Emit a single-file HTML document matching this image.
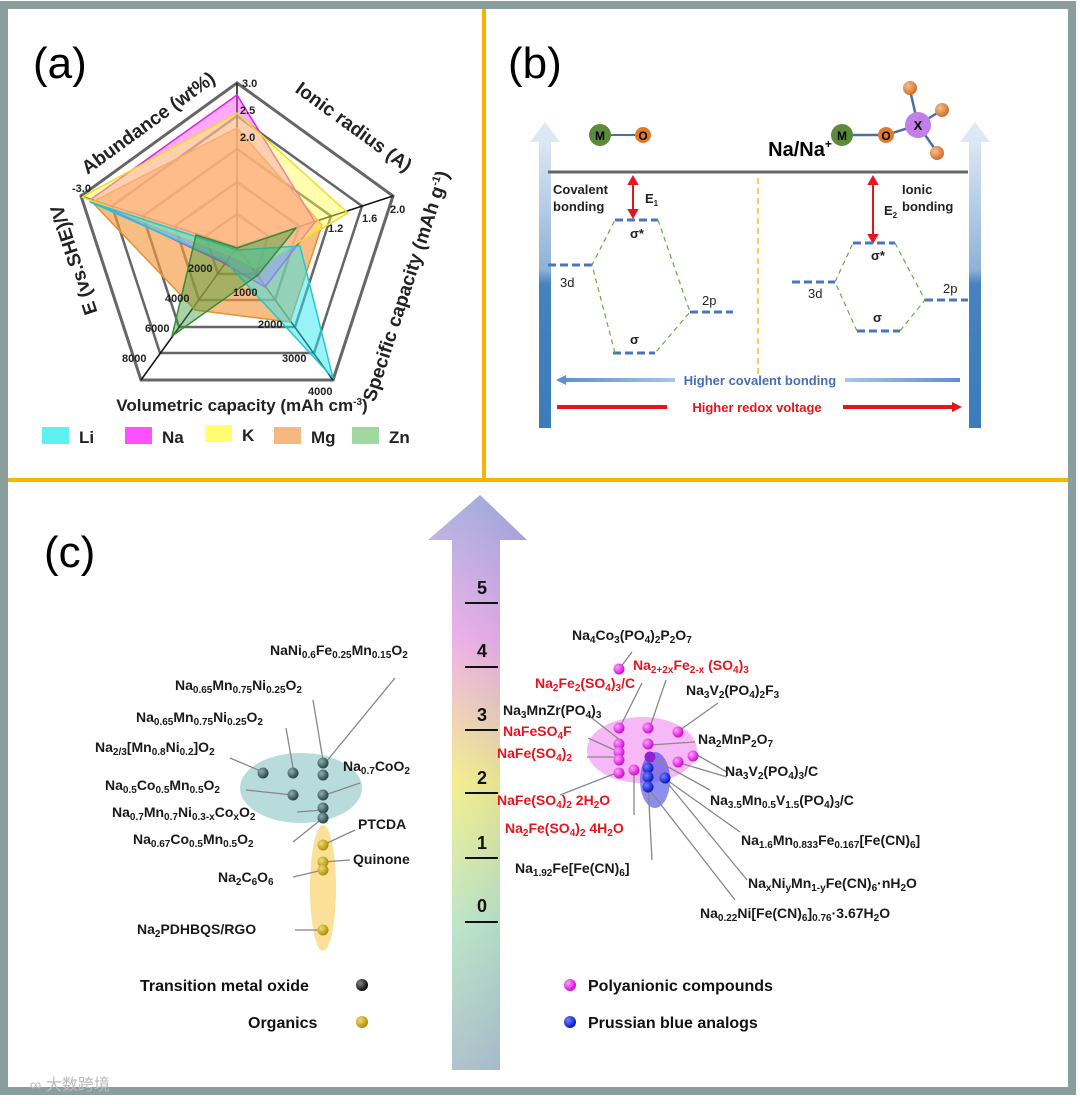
<!DOCTYPE html>
<html><head><meta charset="utf-8"><style>
html,body{margin:0;padding:0;background:#fff}
#w{position:relative;width:1080px;height:1104px;overflow:hidden;font-family:"Liberation Sans",Arial,sans-serif}
svg{position:absolute;left:0;top:0}
.l{position:absolute;font-size:14px;font-weight:bold;line-height:18px;white-space:nowrap;color:#1a1a1a}
.r{color:#e8141c}
.l sub{font-size:10px;vertical-align:-3px;line-height:0}
.l sup{font-size:9px;vertical-align:5px;line-height:0}
</style></head><body><div id="w">
<svg width="1080" height="1104" viewBox="0 0 1080 1104" font-family="Liberation Sans, Arial, sans-serif">
<defs>
<linearGradient id="ba" x1="0" y1="0" x2="0" y2="1">
<stop offset="0" stop-color="#dce8f5"/><stop offset="0.45" stop-color="#8fb2d8"/><stop offset="0.5" stop-color="#4682be"/><stop offset="1" stop-color="#3c7cbb"/></linearGradient>
<linearGradient id="bigv" x1="0" y1="0" x2="0" y2="1">
<stop offset="0" stop-color="#9ea6da"/><stop offset="0.25" stop-color="#f0a6e6"/><stop offset="0.5" stop-color="#f8f27a"/><stop offset="0.75" stop-color="#b6e6c0"/><stop offset="1" stop-color="#a6bcc4"/></linearGradient>
<linearGradient id="bigh" x1="0" y1="0" x2="1" y2="0">
<stop offset="0" stop-color="#fff" stop-opacity="0.15"/><stop offset="1" stop-color="#8090d0" stop-opacity="0.25"/></linearGradient>
<linearGradient id="hb" x1="0" y1="0" x2="1" y2="0"><stop offset="0" stop-color="#5b8fcf"/><stop offset="1" stop-color="#a9c6e8"/></linearGradient>
<linearGradient id="hb2" x1="0" y1="0" x2="1" y2="0"><stop offset="0" stop-color="#a9c6e8"/><stop offset="1" stop-color="#5b8fcf"/></linearGradient>
<radialGradient id="gt" cx="0.35" cy="0.35" r="0.7"><stop offset="0" stop-color="#8fb0b0"/><stop offset="1" stop-color="#20403f"/></radialGradient>
<radialGradient id="gy" cx="0.35" cy="0.35" r="0.7"><stop offset="0" stop-color="#f0dc70"/><stop offset="1" stop-color="#a88a00"/></radialGradient>
<radialGradient id="gp" cx="0.35" cy="0.35" r="0.7"><stop offset="0" stop-color="#ffa0ff"/><stop offset="1" stop-color="#d000d0"/></radialGradient>
<radialGradient id="gb" cx="0.35" cy="0.35" r="0.7"><stop offset="0" stop-color="#7080ff"/><stop offset="1" stop-color="#0010c0"/></radialGradient>
<radialGradient id="gk" cx="0.35" cy="0.35" r="0.7"><stop offset="0" stop-color="#888"/><stop offset="1" stop-color="#000"/></radialGradient>
<radialGradient id="go" cx="0.35" cy="0.35" r="0.7"><stop offset="0" stop-color="#f6c090"/><stop offset="1" stop-color="#d06a20"/></radialGradient>
</defs>
<rect x="4" y="5" width="1068" height="1086" fill="none" stroke="#8a9e9e" stroke-width="8"/>
<line x1="484" y1="9" x2="484" y2="480" stroke="#f4b400" stroke-width="4"/>
<line x1="8" y1="480" x2="1068" y2="480" stroke="#f4b400" stroke-width="4"/>
<text x="33" y="78" font-size="44">(a)</text>
<text x="508" y="78" font-size="44">(b)</text>
<text x="44" y="567" font-size="44">(c)</text>

<g fill="none" stroke="#666" stroke-width="3">
<polygon points="237,83 393,196 333,380 141,380 81,196"/>
<polygon points="237,116 362,206 314,353 160,353 112,206" stroke-width="2.5"/>
<polygon points="237,149 331,216 295,327 179,327 143,216" stroke-width="2.5"/>
<polygon points="237,182 299,226 275,300 199,300 175,226" stroke-width="2.5"/>
<polygon points="237,214 268,236 256,274 218,274 206,236" stroke-width="2.5"/>
</g>
<g stroke="#111" stroke-width="1.5">
<line x1="237" y1="247" x2="237" y2="83"/><line x1="237" y1="247" x2="393" y2="196"/><line x1="237" y1="247" x2="333" y2="380"/><line x1="237" y1="247" x2="141" y2="380"/><line x1="237" y1="247" x2="81" y2="196"/>
</g>
<g stroke-width="1.5" stroke-linejoin="round">
<polygon points="237,128 322,225 290,322 195,310 92,202" fill="#f39a40" fill-opacity="0.65" stroke="#e8902c"/>
<polygon points="237,95 315,222 265,287 222,262 90,200" fill="#ff40ff" fill-opacity="0.45" stroke="#e020e0"/>
<polygon points="237,113 348,213 255,268 230,255 82,197" fill="#ffff50" fill-opacity="0.45" stroke="#e8e020"/>
<polygon points="237,250 300,246 333,378 226,262 90,202" fill="#30e8f0" fill-opacity="0.5" stroke="#20c8d0"/>
<polygon points="237,248 296,228 258,275 172,336 196,235" fill="#40a040" fill-opacity="0.45" stroke="#3a8a3a"/>
</g>
<g font-size="11" font-weight="bold" fill="#222">
<text x="242" y="87">3.0</text><text x="240" y="114">2.5</text><text x="240" y="141">2.0</text>
<text x="72" y="192">-3.0</text>
<text x="390" y="213">2.0</text><text x="362" y="222">1.6</text><text x="328" y="232">1.2</text>
<text x="308" y="395">4000</text><text x="282" y="362">3000</text><text x="258" y="328">2000</text><text x="233" y="296">1000</text>
<text x="122" y="362">8000</text><text x="145" y="332">6000</text><text x="165" y="302">4000</text><text x="188" y="272">2000</text>
</g>
<g font-size="19" font-weight="bold" fill="#222">
<text transform="translate(152,128) rotate(-36)" text-anchor="middle">Abundance (wt%)</text>
<text transform="translate(350,132) rotate(36)" text-anchor="middle">Ionic radius (A)</text>
<text transform="translate(412,288) rotate(-72)" text-anchor="middle">Specific capacity (mAh g<tspan font-size="11" dy="-7">-1</tspan><tspan dy="7">)</tspan></text>
<text transform="translate(80,258) rotate(-108)" text-anchor="middle">E (vs.SHE)/V</text>
</g>
<text x="242" y="411" font-size="17" font-weight="bold" fill="#222" text-anchor="middle">Volumetric capacity (mAh cm<tspan font-size="10" dy="-6">-3</tspan><tspan dy="6">)</tspan></text>
<g font-size="17" font-weight="bold" fill="#222">
<rect x="42" y="427" width="27" height="17" fill="#5ff0f0"/><text x="79" y="443">Li</text>
<rect x="125" y="427" width="27" height="17" fill="#ff50ff"/><text x="162" y="443">Na</text>
<rect x="205" y="425" width="27" height="17" fill="#ffff70"/><text x="242" y="441">K</text>
<rect x="274" y="427" width="27" height="17" fill="#f5b880"/><text x="311" y="443">Mg</text>
<rect x="352" y="427" width="27" height="17" fill="#a0d8a0"/><text x="389" y="443">Zn</text>
</g>

<rect x="539" y="140" width="12" height="288" fill="url(#ba)"/>
<polygon points="545,122 530,142 560,142" fill="#dce8f5"/>
<rect x="969" y="140" width="12" height="288" fill="url(#ba)"/>
<polygon points="975,122 960,142 990,142" fill="#dce8f5"/>
<line x1="548" y1="172" x2="968" y2="172" stroke="#666" stroke-width="3"/>
<line x1="600" y1="135" x2="643" y2="135" stroke="#4a6fa0" stroke-width="2"/>
<circle cx="600" cy="135" r="11" fill="#5a8a3a"/><text x="600" y="140" font-size="12" font-weight="bold" text-anchor="middle">M</text>
<circle cx="643" cy="135" r="8" fill="#e07a2a"/><text x="643" y="140" font-size="12" font-weight="bold" text-anchor="middle">O</text>
<g stroke="#4a6fa0" stroke-width="2.5"><line x1="842" y1="135" x2="886" y2="135"/><line x1="886" y1="135" x2="918" y2="125"/><line x1="918" y1="125" x2="942" y2="110"/><line x1="918" y1="125" x2="937" y2="152"/><line x1="918" y1="125" x2="910" y2="90"/></g>
<circle cx="842" cy="135" r="11" fill="#5a8a3a"/><text x="842" y="140" font-size="12" font-weight="bold" text-anchor="middle">M</text>
<circle cx="886" cy="135" r="8" fill="#e07a2a"/><text x="886" y="140" font-size="12" font-weight="bold" text-anchor="middle">O</text>
<circle cx="942" cy="110" r="7" fill="url(#go)"/><circle cx="937" cy="153" r="7" fill="url(#go)"/><circle cx="910" cy="88" r="7" fill="url(#go)"/>
<circle cx="918" cy="125" r="13" fill="#c080e8"/><text x="918" y="130" font-size="13" font-weight="bold" text-anchor="middle">X</text>
<text x="800" y="156" font-size="20" font-weight="bold" text-anchor="middle">Na/Na<tspan font-size="12" dy="-8">+</tspan></text>
<g font-size="13" font-weight="bold" fill="#222">
<text x="553" y="194">Covalent</text><text x="553" y="211">bonding</text>
<text x="902" y="194">Ionic</text><text x="902" y="211">bonding</text>
<text x="645" y="203">E<tspan font-size="8" dy="3">1</tspan></text>
<text x="884" y="215">E<tspan font-size="8" dy="3">2</tspan></text>
</g>
<g stroke="#e8141c" stroke-width="2" fill="#e8141c">
<line x1="633" y1="181" x2="633" y2="213"/><polygon points="633,177 629,184 637,184"/><polygon points="633,217 629,210 637,210"/>
<line x1="873" y1="181" x2="873" y2="238"/><polygon points="873,177 869,184 877,184"/><polygon points="873,242 869,235 877,235"/>
</g>
<line x1="758" y1="178" x2="758" y2="378" stroke="#f4c020" stroke-width="1.5" stroke-dasharray="6,4"/>
<g stroke="#4a74c0" stroke-width="3" stroke-dasharray="8,4">
<line x1="615" y1="220" x2="658" y2="220"/><line x1="548" y1="265" x2="592" y2="265"/><line x1="690" y1="312" x2="733" y2="312"/><line x1="613" y1="353" x2="655" y2="353"/>
<line x1="853" y1="243" x2="895" y2="243"/><line x1="792" y1="282" x2="835" y2="282"/><line x1="925" y1="300" x2="968" y2="300"/><line x1="857" y1="331" x2="900" y2="331"/>
</g>
<g stroke="#6aaa40" stroke-width="1.2" stroke-dasharray="5,4" fill="none">
<polyline points="615,353 592,265 615,220"/><polyline points="658,220 690,312 655,353"/>
<polyline points="857,331 835,282 853,243"/><polyline points="895,243 925,300 900,331"/>
</g>
<g font-size="13" fill="#222">
<text x="560" y="287">3d</text><text x="702" y="305">2p</text><text x="630" y="238" font-weight="bold">σ*</text><text x="630" y="344" font-weight="bold">σ</text>
<text x="808" y="298">3d</text><text x="943" y="293">2p</text><text x="871" y="260" font-weight="bold">σ*</text><text x="873" y="322" font-weight="bold">σ</text>
</g>
<rect x="562" y="378" width="113" height="4" fill="url(#hb)"/><polygon points="556,380 566,375 566,385" fill="#5b8fcf"/>
<rect x="845" y="378" width="115" height="4" fill="url(#hb2)"/>
<text x="760" y="385" font-size="13" font-weight="bold" fill="#4a6db8" text-anchor="middle">Higher covalent bonding</text>
<rect x="557" y="405" width="110" height="4" fill="#e8141c"/>
<rect x="843" y="405" width="112" height="4" fill="#e8141c"/><polygon points="962,407 952,402 952,412" fill="#e8141c"/>
<text x="757" y="412" font-size="13" font-weight="bold" fill="#e8141c" text-anchor="middle">Higher redox voltage</text>

<g>
<polygon points="480,495 527,540 500,540 500,1070 452,1070 452,540 428,540" fill="url(#bigv)"/>
<polygon points="480,495 527,540 500,540 500,1070 452,1070 452,540 428,540" fill="url(#bigh)"/>
</g>
<g stroke="#111" stroke-width="2">
<line x1="465" y1="603" x2="498" y2="603"/><line x1="465" y1="667" x2="498" y2="667"/><line x1="465" y1="730" x2="498" y2="730"/><line x1="465" y1="793" x2="498" y2="793"/><line x1="465" y1="858" x2="498" y2="858"/><line x1="465" y1="922" x2="498" y2="922"/>
</g>
<g font-size="18" font-weight="bold" text-anchor="middle" fill="#111">
<text x="482" y="594">5</text><text x="482" y="657">4</text><text x="482" y="721">3</text><text x="482" y="784">2</text><text x="482" y="849">1</text><text x="482" y="912">0</text>
</g>

<ellipse cx="301" cy="788" rx="61" ry="35" fill="#b8dcdc"/>
<ellipse cx="323" cy="888" rx="13" ry="63" fill="#fbe09a"/>
<g stroke="#888" stroke-width="1.3">
<line x1="395" y1="678" x2="326" y2="762"/><line x1="313" y1="700" x2="323" y2="760"/><line x1="286" y1="728" x2="293" y2="768"/><line x1="230" y1="758" x2="263" y2="772"/>
<line x1="360" y1="783" x2="325" y2="795"/><line x1="246" y1="790" x2="293" y2="795"/><line x1="297" y1="812" x2="323" y2="810"/><line x1="293" y1="842" x2="323" y2="818"/>
<line x1="355" y1="830" x2="323" y2="845"/><line x1="350" y1="860" x2="323" y2="862"/><line x1="293" y1="877" x2="323" y2="870"/><line x1="295" y1="930" x2="323" y2="930"/>
</g>
<g fill="url(#gt)">
<circle cx="263" cy="773" r="5.5"/><circle cx="293" cy="773" r="5.5"/><circle cx="323" cy="763" r="5.5"/><circle cx="323" cy="775" r="5.5"/><circle cx="293" cy="795" r="5.5"/><circle cx="323" cy="795" r="5.5"/><circle cx="323" cy="808" r="5.5"/><circle cx="323" cy="818" r="5.5"/>
</g>
<g fill="url(#gy)"><circle cx="323" cy="845" r="5.5"/><circle cx="323" cy="862" r="5.5"/><circle cx="323" cy="870" r="5.5"/><circle cx="323" cy="930" r="5.5"/></g>

<ellipse cx="642" cy="750" rx="55" ry="33" fill="#f4a0f4" fill-opacity="0.75"/>
<ellipse cx="655" cy="780" rx="15" ry="28" fill="#5050e8" fill-opacity="0.65"/>
<g stroke="#888" stroke-width="1.3">
<line x1="632" y1="652" x2="620" y2="668"/><line x1="666" y1="680" x2="650" y2="727"/><line x1="642" y1="683" x2="620" y2="727"/><line x1="718" y1="703" x2="680" y2="730"/>
<line x1="588" y1="715" x2="620" y2="740"/><line x1="695" y1="742" x2="650" y2="745"/><line x1="588" y1="738" x2="619" y2="752"/><line x1="587" y1="757" x2="619" y2="757"/>
<line x1="697" y1="755" x2="727" y2="772"/><line x1="680" y1="763" x2="727" y2="777"/><line x1="710" y1="790" x2="650" y2="757"/><line x1="560" y1="795" x2="619" y2="772"/>
<line x1="634" y1="815" x2="634" y2="770"/><line x1="740" y1="832" x2="650" y2="768"/><line x1="652" y1="860" x2="648" y2="785"/><line x1="747" y1="880" x2="665" y2="780"/><line x1="735" y1="900" x2="648" y2="788"/>
</g>
<g fill="url(#gp)">
<circle cx="619" cy="669" r="5.5"/>
<circle cx="619" cy="728" r="5.5"/><circle cx="648" cy="728" r="5.5"/><circle cx="678" cy="732" r="5.5"/><circle cx="619" cy="744" r="5.5"/><circle cx="648" cy="744" r="5.5"/><circle cx="619" cy="752" r="5.5"/><circle cx="619" cy="760" r="5.5"/><circle cx="619" cy="773" r="5.5"/><circle cx="634" cy="770" r="5.5"/><circle cx="678" cy="762" r="5.5"/><circle cx="693" cy="756" r="5.5"/>
</g>
<circle cx="650" cy="757" r="5.5" fill="#9020d0"/>
<g fill="url(#gb)"><circle cx="648" cy="768" r="5.5"/><circle cx="648" cy="777" r="5.5"/><circle cx="665" cy="778" r="5.5"/><circle cx="648" cy="787" r="5.5"/></g>

<circle cx="362" cy="985" r="6" fill="url(#gk)"/><circle cx="362" cy="1022" r="6" fill="url(#gy)"/>
<circle cx="570" cy="985" r="6" fill="url(#gp)"/><circle cx="570" cy="1022" r="6" fill="url(#gb)"/>
<g font-size="16" font-weight="bold" fill="#111">
<text x="140" y="991">Transition metal oxide</text><text x="248" y="1028">Organics</text>
<text x="588" y="991">Polyanionic compounds</text><text x="588" y="1028">Prussian blue analogs</text>
</g>
<text x="30" y="1090" font-size="16" fill="#bbb" font-family="Liberation Sans, Noto Sans CJK SC, sans-serif">∞ 大数跨境</text>
</svg>

<div class="l" style="left:270px;top:641px">NaNi<sub>0.6</sub>Fe<sub>0.25</sub>Mn<sub>0.15</sub>O<sub>2</sub></div>
<div class="l" style="left:175px;top:676px">Na<sub>0.65</sub>Mn<sub>0.75</sub>Ni<sub>0.25</sub>O<sub>2</sub></div>
<div class="l" style="left:136px;top:708px">Na<sub>0.65</sub>Mn<sub>0.75</sub>Ni<sub>0.25</sub>O<sub>2</sub></div>
<div class="l" style="left:95px;top:738px">Na<sub>2/3</sub>[Mn<sub>0.8</sub>Ni<sub>0.2</sub>]O<sub>2</sub></div>
<div class="l" style="left:343px;top:757px">Na<sub>0.7</sub>CoO<sub>2</sub></div>
<div class="l" style="left:105px;top:776px">Na<sub>0.5</sub>Co<sub>0.5</sub>Mn<sub>0.5</sub>O<sub>2</sub></div>
<div class="l" style="left:112px;top:803px">Na<sub>0.7</sub>Mn<sub>0.7</sub>Ni<sub>0.3-x</sub>Co<sub>x</sub>O<sub>2</sub></div>
<div class="l" style="left:133px;top:830px">Na<sub>0.67</sub>Co<sub>0.5</sub>Mn<sub>0.5</sub>O<sub>2</sub></div>
<div class="l" style="left:358px;top:815px">PTCDA</div>
<div class="l" style="left:353px;top:850px">Quinone</div>
<div class="l" style="left:218px;top:868px">Na<sub>2</sub>C<sub>6</sub>O<sub>6</sub></div>
<div class="l" style="left:137px;top:920px">Na<sub>2</sub>PDHBQS/RGO</div>
<div class="l" style="left:572px;top:626px">Na<sub>4</sub>Co<sub>3</sub>(PO<sub>4</sub>)<sub>2</sub>P<sub>2</sub>O<sub>7</sub></div>
<div class="l r" style="left:633px;top:656px">Na<sub>2+2x</sub>Fe<sub>2-x</sub> (SO<sub>4</sub>)<sub>3</sub></div>
<div class="l r" style="left:535px;top:674px">Na<sub>2</sub>Fe<sub>2</sub>(SO<sub>4</sub>)<sub>3</sub>/C</div>
<div class="l" style="left:686px;top:681px">Na<sub>3</sub>V<sub>2</sub>(PO<sub>4</sub>)<sub>2</sub>F<sub>3</sub></div>
<div class="l" style="left:503px;top:701px">Na<sub>3</sub>MnZr(PO<sub>4</sub>)<sub>3</sub></div>
<div class="l" style="left:698px;top:730px">Na<sub>2</sub>MnP<sub>2</sub>O<sub>7</sub></div>
<div class="l r" style="left:503px;top:722px">NaFeSO<sub>4</sub>F</div>
<div class="l r" style="left:497px;top:744px">NaFe(SO<sub>4</sub>)<sub>2</sub></div>
<div class="l" style="left:725px;top:762px">Na<sub>3</sub>V<sub>2</sub>(PO<sub>4</sub>)<sub>3</sub>/C</div>
<div class="l" style="left:710px;top:791px">Na<sub>3.5</sub>Mn<sub>0.5</sub>V<sub>1.5</sub>(PO<sub>4</sub>)<sub>3</sub>/C</div>
<div class="l r" style="left:497px;top:791px">NaFe(SO<sub>4</sub>)<sub>2</sub> 2H<sub>2</sub>O</div>
<div class="l r" style="left:505px;top:819px">Na<sub>2</sub>Fe(SO<sub>4</sub>)<sub>2</sub> 4H<sub>2</sub>O</div>
<div class="l" style="left:741px;top:831px">Na<sub>1.6</sub>Mn<sub>0.833</sub>Fe<sub>0.167</sub>[Fe(CN)<sub>6</sub>]</div>
<div class="l" style="left:515px;top:859px">Na<sub>1.92</sub>Fe[Fe(CN)<sub>6</sub>]</div>
<div class="l" style="left:748px;top:874px">Na<sub>x</sub>Ni<sub>y</sub>Mn<sub>1-y</sub>Fe(CN)<sub>6</sub>·nH<sub>2</sub>O</div>
<div class="l" style="left:700px;top:904px">Na<sub>0.22</sub>Ni[Fe(CN)<sub>6</sub>]<sub>0.76</sub>·3.67H<sub>2</sub>O</div>
</div></body></html>
